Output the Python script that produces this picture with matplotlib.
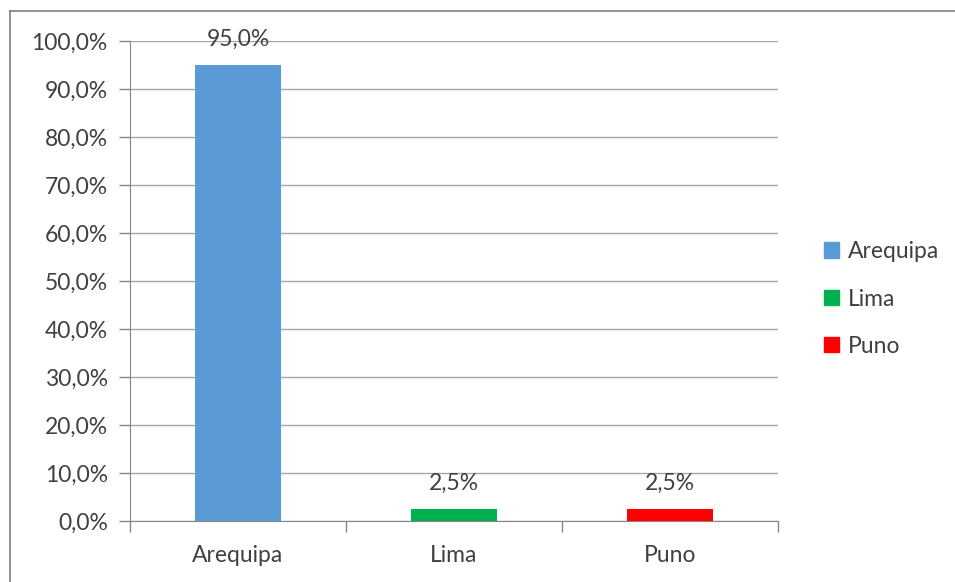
import matplotlib.pyplot as plt
import matplotlib.patches as mpatches
from matplotlib.lines import Line2D
import numpy as np

categorias = ['Arequipa', 'Lima', 'Puno']
porcentajes = [95.0, 2.5, 2.5]
colores = ['#5B9BD5', '#00B050', '#FF0000']
yticks = np.arange(0, 101, 10)

plt.rcParams['font.family'] = ['Lato', 'DejaVu Sans']
fs = 16.5

fig = plt.figure(figsize=(9.55, 5.82), dpi=100)
# marco del gráfico (solo bordes izquierdo y superior visibles)
bx, by = 10 / 955, 1 - 11 / 582
fig.add_artist(Line2D([bx, bx], [0, by], transform=fig.transFigure, color='#7f7f7f', lw=1.2))
fig.add_artist(Line2D([bx, 1], [by, by], transform=fig.transFigure, color='#7f7f7f', lw=1.2))

ax = fig.add_axes([130 / 955, 1 - 521 / 582, 648 / 955, 480 / 582])
x = np.arange(len(categorias))
bars = ax.bar(x, porcentajes, width=0.4, color=colores, zorder=3)

for b, v in zip(bars, porcentajes):
    ax.annotate(f'{v:.1f}%'.replace('.', ','), (b.get_x() + b.get_width() / 2, v),
                xytext=(0, 11), textcoords='offset points', ha='center', va='bottom',
                fontsize=fs, color='#404040')

ax.set_xlim(-0.5, 2.5)
ax.set_ylim(0, 100)
ax.set_yticks(yticks)
ax.set_yticklabels([f'{t:.1f}%'.replace('.', ',') for t in yticks], fontsize=fs, color='#404040')
ax.set_xticks(x)
ax.set_xticklabels(categorias, fontsize=fs, color='#404040')
ax.tick_params(axis='x', length=0, pad=17)
ax.set_xticks([-0.5, 0.5, 1.5, 2.5], minor=True)
ax.tick_params(axis='x', which='minor', length=8, color='#868686', width=1)
ax.tick_params(axis='y', length=8, color='#868686', width=1, pad=8)
ax.grid(axis='y', color='#a6a6a6', linewidth=1, zorder=0)
for s in ['top', 'right']:
    ax.spines[s].set_visible(False)
ax.spines['left'].set_color('#868686')
ax.spines['bottom'].set_color('#868686')

handles = [mpatches.Patch(color=c, label=l) for c, l in zip(colores, categorias)]
fig.legend(handles=handles, loc='center left', bbox_to_anchor=(803 / 955, 1 - 299 / 582),
           frameon=False, fontsize=fs, handlelength=0.65, handleheight=0.65,
           handletextpad=0.4, labelspacing=1.15, labelcolor='#404040')

fig.savefig('out.png', dpi=100)
